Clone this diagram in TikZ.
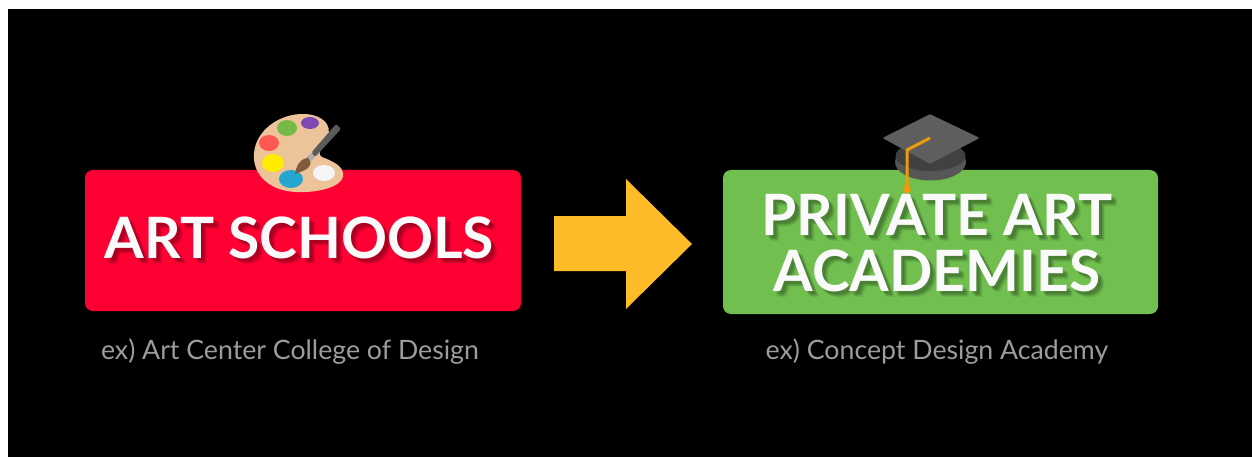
\documentclass[tikz,border=0pt]{standalone}
\usepackage{fontspec}
\setmainfont{Lato}
\definecolor{artred}{HTML}{FF0033}
\definecolor{artgreen}{HTML}{70BF4F}
\definecolor{arrowgold}{HTML}{FDBB27}
\definecolor{subgray}{HTML}{9C9C9C}
\definecolor{skin}{HTML}{EDC39A}
\definecolor{capgray}{HTML}{5E5E5E}
\definecolor{capmid}{HTML}{565656}
\definecolor{capdark}{HTML}{414141}
\definecolor{tassel}{HTML}{EE9A0E}
\definecolor{dabred}{RGB}{255,88,82}
\definecolor{dabgreen}{RGB}{118,186,72}
\definecolor{dabpurple}{RGB}{128,72,178}
\definecolor{dabyellow}{RGB}{255,236,0}
\definecolor{dabblue}{RGB}{36,166,206}
\definecolor{dabwhite}{RGB}{245,245,245}
\definecolor{bristle}{RGB}{130,90,60}
\definecolor{ferrule}{RGB}{175,175,175}
\definecolor{brushgray}{RGB}{90,90,90}
\tikzset{
  panel/.style={rounded corners=8pt,draw=none},
  headline/.style={font=\bfseries\fontsize{57}{62}\selectfont,align=center,inner sep=0pt,text=#1},
  subline/.style={font=\fontsize{26.7}{30}\selectfont,text=subgray,inner sep=0pt},
}
\newcommand{\artschools}{ART SCHOOLS}
\newcommand{\privateart}{PRIVATE ART\\[-6pt]ACADEMIES}
\begin{document}
\begin{tikzpicture}[x=1pt,y=-1pt]
\useasboundingbox (0,0) rectangle (1252,457);
\fill[white] (0,0) rectangle (1252,457);
\fill[black] (8,9) rectangle (1252,457);
% panels
\fill[artred,panel] (85,170) rectangle (521,311);
\fill[artgreen,panel] (723,170) rectangle (1158,314);
% arrow
\fill[arrowgold] (554,216) -- (626,216) -- (626,179) -- (692,244) -- (626,309) -- (626,271) -- (554,271) -- cycle;
% palette
\fill[skin] (254,153)
  .. controls (256,130) and (280,113) .. (305,114)
  .. controls (322,115) and (332,124) .. (328,137)
  .. controls (325,148) and (315,152) .. (322,157)
  .. controls (332,161) and (345,166) .. (343,177)
  .. controls (340,188) and (315,193) .. (296,192)
  .. controls (270,191) and (252,175) .. (254,153) -- cycle;
\fill[dabred] (269,143) ellipse (10 and 8);
\fill[dabgreen] (287,128) ellipse (10 and 8);
\fill[dabpurple] (310,123) ellipse (9 and 6);
\fill[dabyellow] (273,163) ellipse (11 and 9);
\fill[dabblue] (291,179) ellipse (12 and 9);
\fill[dabwhite] (324,173) ellipse (11 and 8);
\fill[brushgray,rounded corners=2pt] (336,124) -- (341,129) -- (315,157) -- (311,153) -- cycle;
\fill[ferrule] (311,153) -- (315,157) -- (311,161) -- (307,157) -- cycle;
\fill[bristle] (307,157) .. controls (311,160) and (312,164) .. (308,168) .. controls (304,171) and (300,172) .. (295,174) .. controls (296,168) and (298,160) .. (307,158) -- cycle;
% cap
\fill[capmid] (930.5,162) ellipse (35.5 and 18.5);
\fill[capdark] (930.5,156) ellipse (35 and 15);
\fill[capgray,draw=capgray,line join=round,line width=1.5pt] (930,115) -- (978,138) -- (930,163) -- (884,138) -- cycle;
\draw[tassel,line width=3pt,line join=round] (930,138) -- (907,150) -- (907,184);
\fill[tassel,rounded corners=1.5pt] (907,182) -- (910.5,187) -- (910.5,193) -- (903.5,193) -- (903.5,187) -- cycle;
% text
\foreach \dx/\dy/\op in {6/6/.07,5/4/.09,4/5/.09,3/3/.12}{
  \node[headline=black,opacity=\op] at (299.5+\dx,238+\dy) {\artschools};
  \node[headline=black,opacity=\op] at (937+\dx,243.5+\dy) {\privateart};
}
\node[headline=white!96!gray] (art) at (299.5,238) {\artschools};
\node[headline=white!96!gray] (priv) at (937,243.5) {\privateart};
\node[subline] (artsub) at (290,351.5) {ex) Art Center College of Design};
\node[subline] (privsub) at (937,351.5) {ex) Concept Design Academy};
\end{tikzpicture}
\end{document}
